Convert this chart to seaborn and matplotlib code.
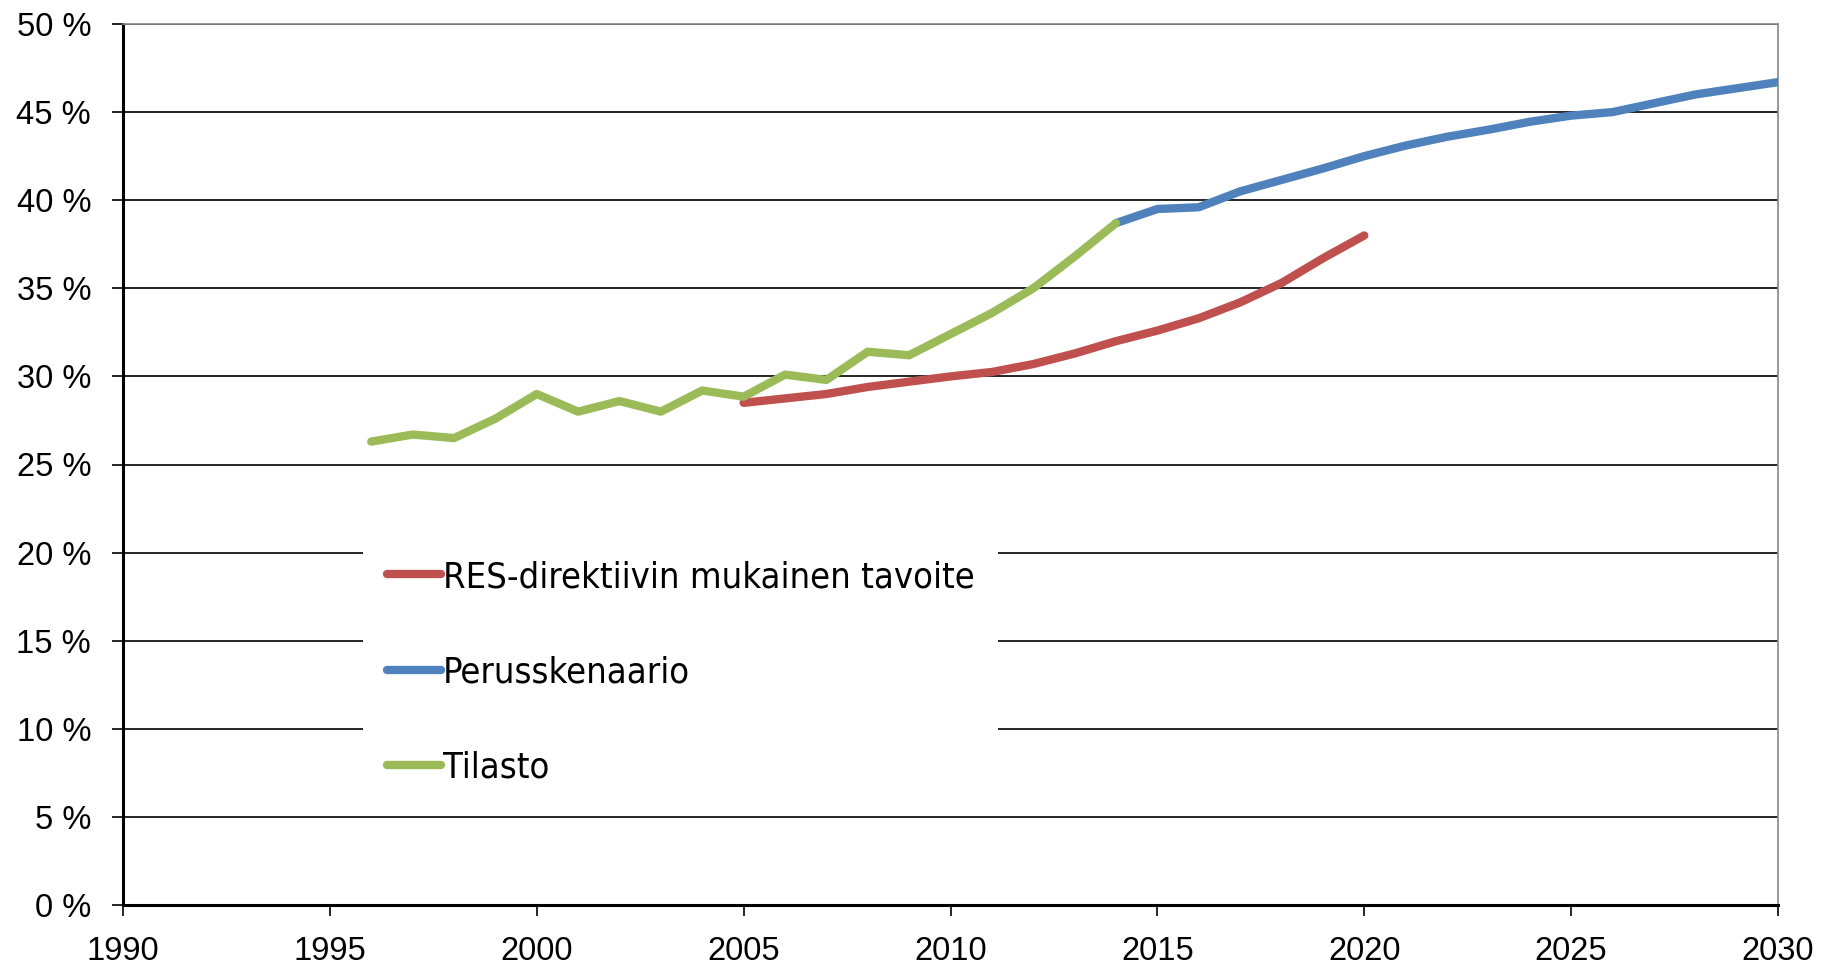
import matplotlib
matplotlib.use("Agg")
import matplotlib.pyplot as plt
from matplotlib.font_manager import FontProperties
import seaborn as sns
import pandas as pd

sns.set_theme(style="white")
plt.rcParams['font.family'] = ['Liberation Sans', 'DejaVu Sans']

# data (share in %)
tilasto_years = list(range(1996, 2015))
tilasto = [26.3, 26.7, 26.5, 27.6, 29.0, 28.0, 28.6, 28.0, 29.2, 28.85,
           30.1, 29.8, 31.4, 31.2, 32.4, 33.6, 35.0, 36.8, 38.7]

res_years = list(range(2005, 2021))
res_target = [28.5, 28.75, 29.0, 29.4, 29.7, 30.0, 30.25, 30.7, 31.3, 32.0,
              32.6, 33.3, 34.2, 35.3, 36.7, 38.0]

perus_years = list(range(2014, 2031))
perus = [38.7, 39.5, 39.6, 40.5, 41.15, 41.8, 42.5, 43.1, 43.6, 44.0,
         44.45, 44.8, 45.0, 45.5, 46.0, 46.35, 46.7]

labels = ["RES-direktiivin mukainen tavoite", "Perusskenaario", "Tilasto"]
colors = ["#C0504D", "#4F81BD", "#9BBB59"]

df = pd.concat([
    pd.DataFrame({"year": res_years, "value": res_target, "series": labels[0]}),
    pd.DataFrame({"year": perus_years, "value": perus, "series": labels[1]}),
    pd.DataFrame({"year": tilasto_years, "value": tilasto, "series": labels[2]}),
])

fig = plt.figure(figsize=(18.22, 9.66), dpi=100)
ax = fig.add_axes([123 / 1822, 1 - 905 / 966, (1778 - 123) / 1822, (905 - 24) / 966])

sns.lineplot(data=df, x="year", y="value", hue="series", hue_order=labels,
             palette=colors, linewidth=6.0, ax=ax, zorder=3)
for ln in ax.get_lines():
    ln.set_solid_capstyle("round")

ax.set_xlim(1990, 2030)
ax.set_ylim(0, 50)
ax.set_xticks(range(1990, 2031, 5))
ax.set_yticks(range(0, 51, 5))
ax.set_yticklabels([f"{v} %" for v in range(0, 51, 5)])
ax.set_xlabel("")
ax.set_ylabel("")

ax.yaxis.grid(True, color="black", linewidth=1.2)
ax.xaxis.grid(False)
ax.set_axisbelow(True)

for s in ["left", "bottom"]:
    ax.spines[s].set_color("black")
    ax.spines[s].set_linewidth(2.2)
for s in ["top", "right"]:
    ax.spines[s].set_color("#888888")
    ax.spines[s].set_linewidth(1.2)

ax.tick_params(axis="both", which="major", direction="out", length=8,
               width=1.2, color="black", labelsize=23.5, labelcolor="black",
               left=True, bottom=True)
ax.tick_params(axis="x", pad=14)
ax.tick_params(axis="y", pad=15)

leg_font = FontProperties(family="DejaVu Sans", stretch="condensed", size=26)
leg = ax.legend(loc="center", bbox_to_anchor=(0.337, 0.264), frameon=True,
                fancybox=False, framealpha=1, edgecolor="none", facecolor="white",
                prop=leg_font, labelcolor="black",
                handlelength=1.5, handletextpad=0.05, labelspacing=1.7,
                borderpad=0.65)
for h in leg.get_lines():
    h.set_linewidth(6.0)
    h.set_solid_capstyle("round")

fig.savefig("out.png", dpi=100, facecolor="white")
